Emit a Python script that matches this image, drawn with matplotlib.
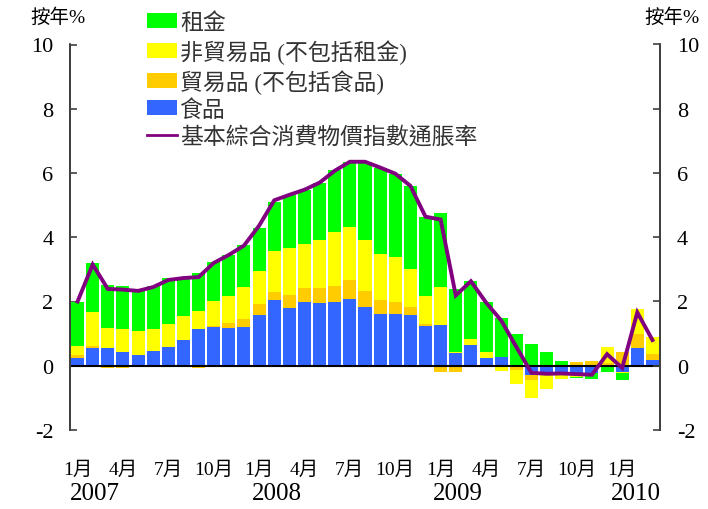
import matplotlib
matplotlib.use("Agg")
import matplotlib.pyplot as plt
import numpy as np
from matplotlib.patches import Patch
from matplotlib.lines import Line2D

plt.rcParams['font.family'] = ['Liberation Serif', 'Noto Sans CJK TC', 'DejaVu Sans']

months = ['2007-01','2007-02','2007-03','2007-04','2007-05','2007-06','2007-07','2007-08','2007-09','2007-10','2007-11','2007-12',
          '2008-01','2008-02','2008-03','2008-04','2008-05','2008-06','2008-07','2008-08','2008-09','2008-10','2008-11','2008-12',
          '2009-01','2009-02','2009-03','2009-04','2009-05','2009-06','2009-07','2009-08','2009-09','2009-10','2009-11','2009-12',
          '2010-01','2010-02','2010-03']

food = [0.23, 0.54, 0.54, 0.42, 0.32, 0.45, 0.57, 0.79, 1.14, 1.20, 1.17, 1.20,
        1.57, 2.04, 1.79, 1.98, 1.95, 1.98, 2.07, 1.82, 1.60, 1.60, 1.57, 1.24,
        1.27, 0.41, 0.66, 0.25, 0.28, -0.04, -0.28, -0.25, -0.24, -0.22, -0.22, 0.00,
        -0.19, 0.56, 0.18]
tradables = [0.12, 0.06, -0.08, -0.08, -0.03, -0.04, -0.04, -0.04, -0.08, 0.03, 0.15, 0.25,
             0.35, 0.25, 0.41, 0.44, 0.47, 0.50, 0.60, 0.50, 0.44, 0.38, 0.25, 0.06,
             -0.18, -0.18, 0.00, 0.00, 0.00, -0.10, -0.16, -0.03, -0.02, 0.12, 0.15, 0.10,
             0.43, 0.43, 0.19]
nontradables = [0.25, 1.07, 0.63, 0.72, 0.75, 0.69, 0.72, 0.75, 0.56, 0.78, 0.85, 1.00,
                1.03, 1.28, 1.47, 1.37, 1.50, 1.69, 1.65, 1.60, 1.44, 1.41, 1.19, 0.88,
                1.19, 0.02, 0.18, 0.19, -0.16, -0.42, -0.56, -0.45, -0.16, -0.12, -0.02, 0.48,
                -0.03, 0.79, 0.53]
rent = [1.40, 1.53, 1.34, 1.34, 1.26, 1.34, 1.44, 1.22, 1.19, 1.22, 1.28, 1.31,
        1.34, 1.53, 1.65, 1.69, 1.78, 1.93, 2.03, 2.43, 2.69, 2.59, 2.59, 2.46,
        2.31, 1.97, 1.79, 1.53, 1.22, 1.00, 0.69, 0.43, 0.15, -0.03, -0.16, -0.18,
        -0.22, -0.05, -0.05]
cpi = [2.0, 3.15, 2.39, 2.37, 2.33, 2.45, 2.67, 2.73, 2.76, 3.2, 3.45, 3.74,
       4.36, 5.15, 5.32, 5.48, 5.70, 6.07, 6.35, 6.35, 6.17, 5.98, 5.6, 4.64,
       4.55, 2.19, 2.63, 1.97, 1.41, 0.59, -0.22, -0.25, -0.24, -0.26, -0.28, 0.36,
       -0.07, 1.66, 0.80]

month_tick_idx = [0, 3, 6, 9, 12, 15, 18, 21, 24, 27, 30, 33, 36]
month_tick_labels = ['1月', '4月', '7月', '10月', '1月', '4月', '7月', '10月', '1月', '4月', '7月', '10月', '1月']
year_labels = ['2007', '2008', '2009', '2010']
year_pos = [1.15, 13.15, 25.15, 36.9]

series = [('食品', food, '#3366FF'),
          ('貿易品 (不包括食品)', tradables, '#FFCC00'),
          ('非貿易品 (不包括租金)', nontradables, '#FFFF00'),
          ('租金', rent, '#00FF00')]

fig = plt.figure(figsize=(7.08, 5.10), dpi=100)
ax = fig.add_axes([70/708, 1-431/510, 590/708, (431-45.5)/510])
ax2 = ax.twinx()

x = np.arange(len(months))
pos_base = np.zeros(len(months))
neg_base = np.zeros(len(months))
w = 0.86
for name, vals, col in series:
    v = np.array(vals)
    p = np.where(v > 0, v, 0)
    n = np.where(v < 0, v, 0)
    ax.bar(x, p, w, bottom=pos_base, color=col, linewidth=0, zorder=2)
    ax.bar(x, n, w, bottom=neg_base, color=col, linewidth=0, zorder=2)
    pos_base += p
    neg_base += n

ax.axhline(0, color='black', lw=1.5, zorder=3)
ax.plot(x, cpi, color='#800080', lw=2.8, zorder=4, solid_joinstyle='miter')

for a in (ax, ax2):
    a.set_ylim(-2, 10)
    a.set_yticks([-2, 0, 2, 4, 6, 8, 10])
    a.spines['top'].set_visible(False)
    a.spines['bottom'].set_visible(False)
    for s in ('left', 'right'):
        a.spines[s].set_color('#404040')
        a.spines[s].set_linewidth(1.3)
ax.set_xlim(-0.5, len(months) - 0.5)
ax.tick_params(axis='y', direction='in', length=5, width=1.2, color='#404040', labelsize=16, pad=12)
ax2.tick_params(axis='y', direction='in', length=5, width=1.2, color='#404040', labelsize=16, pad=12)
ax.set_yticklabels(['-2', '0', '2', '4', '6', '8', '10'])
ax2.set_yticklabels(['-2', '0', '2', '4', '6', '8', '10'])

ax.set_xticks(month_tick_idx)
ax.set_xticklabels(month_tick_labels, fontsize=14)
ax.tick_params(axis='x', length=0, pad=22)
for lbl, xp in zip(year_labels, year_pos):
    ax.text(xp, -0.164, lbl, transform=ax.get_xaxis_transform(), ha='center', va='center', fontsize=18)

fig.text(58/708, 1-18/510, '按年%', ha='center', va='center', fontsize=14)
fig.text(672/708, 1-18/510, '按年%', ha='center', va='center', fontsize=14)

handles = [Patch(facecolor='#00FF00', edgecolor='none'),
           Patch(facecolor='#FFFF00', edgecolor='none'),
           Patch(facecolor='#FFCC00', edgecolor='none'),
           Patch(facecolor='#3366FF', edgecolor='none'),
           Line2D([0], [0], color='#800080', lw=2)]
labels = ['租金', '非貿易品 (不包括租金)', '貿易品 (不包括食品)', '食品', '基本綜合消費物價指數通脹率']
leg = fig.legend(handles, labels, loc='upper left', bbox_to_anchor=(147/708, 1-13/510),
                 frameon=False, fontsize=16.5, handlelength=1.31, handleheight=0.61,
                 handletextpad=0.13, labelspacing=0.23, borderpad=0, borderaxespad=0)
for t in leg.get_texts():
    t.set_color('#333333')

fig.savefig('out.png', dpi=100)
